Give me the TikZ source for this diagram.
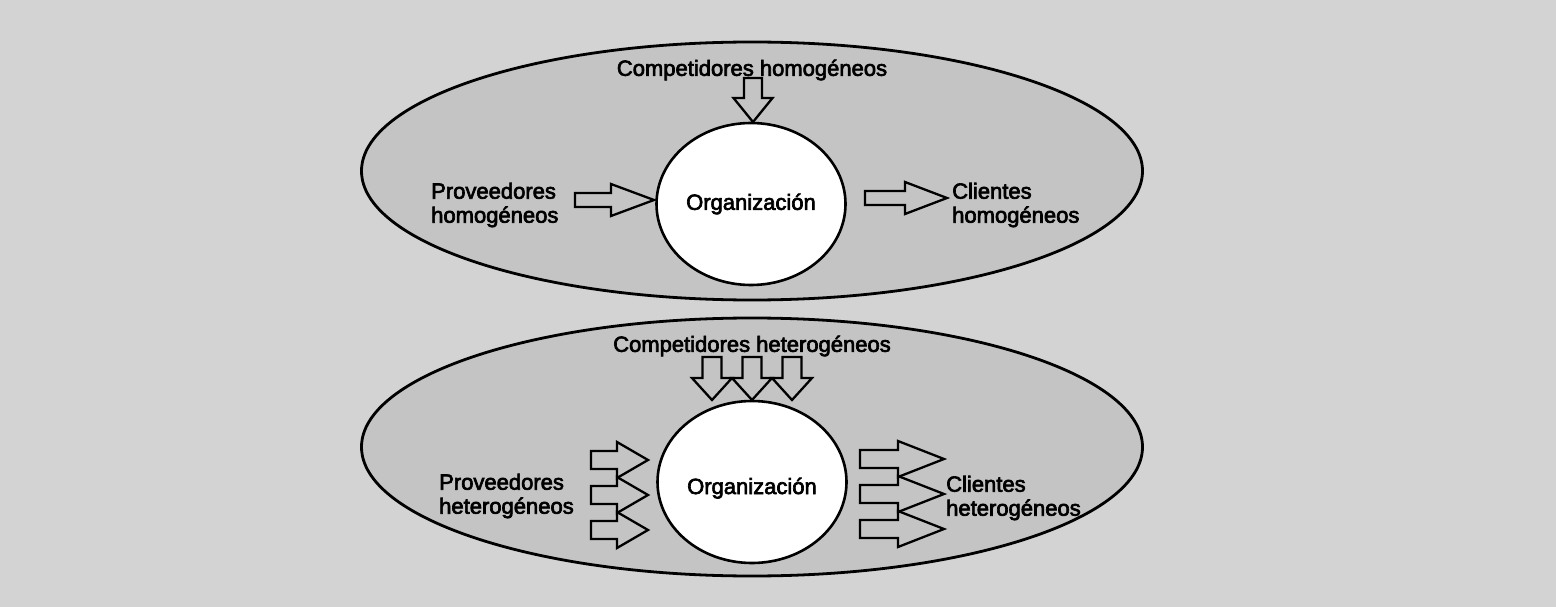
\documentclass[tikz,border=0pt]{standalone}
\usepackage{fontspec}
\setmainfont{Liberation Sans}[FakeBold=3]
\usetikzlibrary{shapes.geometric}
\definecolor{bgout}{HTML}{D3D3D3}
\definecolor{bgin}{HTML}{C4C4C4}
\begin{document}
\begin{tikzpicture}[x=1pt,y=-1pt,
  envell/.style={draw=black, line width=2.8pt, fill=bgin, ellipse, inner sep=0pt, outer sep=0pt},
  orgcirc/.style={draw=black, line width=2.6pt, fill=white, ellipse, inner sep=0pt, outer sep=0pt,
     minimum width=189pt, minimum height=162pt, font=\fontsize{22}{24}\selectfont},
  lbl/.style={align=left, inner sep=0pt, font=\fontsize{22}{24}\selectfont},
  arrowline/.style={draw=black, line width=2.3pt, fill=bgin, line join=miter},
  pics/blockarrow/.style n args={4}{code={
    \draw[arrowline] (0,-#3) -- (#1,-#3) -- (#1,-#4) -- (#1+#2,0) -- (#1,#4) -- (#1,#3) -- (0,#3) -- cycle;}}
]
\useasboundingbox (0,0) rectangle (1556,607);
\fill[bgout] (0,0) rectangle (1556,607);

% environments
\node[envell, minimum width=781pt, minimum height=258pt] (envtop) at (752,171) {};
\node[envell, minimum width=781pt, minimum height=258pt] (envbot) at (752,447) {};

% organizations
\node[orgcirc] (orgtop) at (751,204) {Organización};
\node[orgcirc] (orgbot) at (752,482) {\raisebox{-12pt}[0pt][0pt]{Organización}};

% labels top
\node[lbl] (comptop) at (752,70) {Competidores homogéneos};
\node[lbl, anchor=west] (provtop) at (431,205) {Proveedores\\homogéneos};
\node[lbl, anchor=west] (clitop) at (952,205) {Clientes\\homogéneos};

% labels bottom
\node[lbl] (compbot) at (752,346) {Competidores heterogéneos};
\node[lbl, anchor=west] (provbot) at (439,496) {Proveedores\\heterogéneos};
\node[lbl, anchor=west] (clibot) at (946,498) {Clientes\\heterogéneos};

% arrows top
\pic (ap1) at (575,200) {blockarrow={36}{43}{7}{16}};
\pic (ac1) at (865,198) {blockarrow={40}{42}{7}{16}};
\pic[rotate=-90] (ak1) at (753,78) {blockarrow={20}{24}{9}{19.5}};

% arrows bottom: competitors
\pic[rotate=-90] (ak2) at (712,357) {blockarrow={21}{22}{9.5}{20}};
\pic[rotate=-90] (ak3) at (752,357) {blockarrow={21}{22}{9.5}{20}};
\pic[rotate=-90] (ak4) at (792,357) {blockarrow={21}{22}{9.5}{20}};

% arrows bottom: suppliers
\pic (ap2) at (591,460) {blockarrow={26}{31}{9}{18}};
\pic (ap3) at (591,495) {blockarrow={26}{31}{9}{18}};
\pic (ap4) at (591,530) {blockarrow={26}{31}{9}{18}};

% arrows bottom: clients
\pic (ac2) at (860,459) {blockarrow={38}{46}{9}{18}};
\pic (ac3) at (860,494) {blockarrow={38}{46}{9}{18}};
\pic (ac4) at (860,529) {blockarrow={38}{46}{9}{18}};
\end{tikzpicture}
\end{document}
